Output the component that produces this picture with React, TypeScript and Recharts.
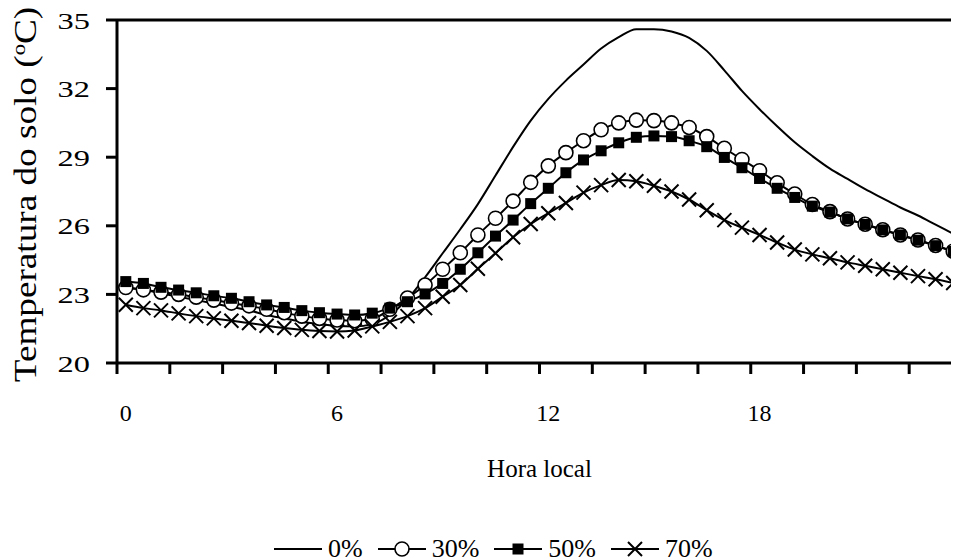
import React from "react";
import {
  LineChart,
  Line,
  XAxis,
  YAxis,
  ReferenceLine,
  Legend,
} from "recharts";

const FONT = '"Liberation Serif", "Times New Roman", serif';

// hora local (h), one reading every half hour
const hours = [
  0, 0.5, 1, 1.5, 2, 2.5, 3, 3.5, 4, 4.5, 5, 5.5, 6, 6.5, 7, 7.5, 8, 8.5, 9,
  9.5, 10, 10.5, 11, 11.5, 12, 12.5, 13, 13.5, 14, 14.5, 15, 15.5, 16, 16.5,
  17, 17.5, 18, 18.5, 19, 19.5, 20, 20.5, 21, 21.5, 22, 22.5, 23, 23.5,
];

const temp0 = [
  23.3, 23.2, 23.05, 22.9, 22.75, 22.6, 22.45, 22.3, 22.1, 21.95, 21.8, 21.7,
  21.62, 21.6, 21.7, 22.1, 22.8, 23.75, 24.8, 25.85, 26.95, 28.2, 29.45, 30.6,
  31.55, 32.35, 33.05, 33.75, 34.25, 34.6, 34.6, 34.5, 34.22, 33.65, 32.8,
  31.9, 31.1, 30.35, 29.65, 29.05, 28.5, 28.05, 27.6, 27.2, 26.8, 26.45,
  26.05, 25.65,
];
const temp30 = [
  23.3, 23.2, 23.1, 23.0, 22.88, 22.75, 22.62, 22.5, 22.35, 22.2, 22.05,
  21.95, 21.88, 21.85, 21.92, 22.35, 22.84, 23.41, 24.1, 24.82, 25.6, 26.33,
  27.08, 27.9, 28.62, 29.2, 29.72, 30.2, 30.5, 30.62, 30.6, 30.5, 30.3, 29.9,
  29.39, 28.9, 28.41, 27.88, 27.39, 26.93, 26.62, 26.3, 26.07, 25.83, 25.6,
  25.38, 25.14, 24.89,
];
const temp50 = [
  23.56, 23.48, 23.31, 23.19, 23.07, 22.94, 22.83, 22.68, 22.54, 22.43, 22.29,
  22.2, 22.14, 22.1, 22.18, 22.4, 22.68, 23.02, 23.48, 24.1, 24.82, 25.55,
  26.25, 26.97, 27.64, 28.32, 28.88, 29.28, 29.63, 29.87, 29.93, 29.9, 29.72,
  29.46, 28.99, 28.54, 28.07, 27.64, 27.24, 26.86, 26.6, 26.3, 26.06, 25.82,
  25.6, 25.37, 25.13, 24.88,
];
const temp70 = [
  22.55, 22.4, 22.3, 22.17, 22.05, 21.95, 21.85, 21.75, 21.63, 21.53, 21.45,
  21.4, 21.38, 21.42, 21.6, 21.8, 22.05, 22.4, 22.9, 23.41, 24.12, 24.8, 25.5,
  26.08, 26.55, 27.0, 27.45, 27.78, 28.0, 27.95, 27.75, 27.5, 27.15, 26.68,
  26.25, 25.92, 25.6, 25.27, 24.96, 24.75, 24.58, 24.4, 24.25, 24.1, 23.95,
  23.8, 23.66, 23.5,
];

const seriesNames = ["0%", "30%", "50%", "70%"];
const yTicks = [20, 23, 26, 29, 32, 35];
const xLabels = [0, 6, 12, 18];
// tick marks sit between categories, every 1.5 h
const xTickMarks = [
  -0.25, 1.25, 2.75, 4.25, 5.75, 7.25, 8.75, 10.25, 11.75, 13.25, 14.75,
  16.25, 17.75, 19.25, 20.75, 22.25, 23.75,
];

const data = hours.map((h, i) => ({
  hora: h,
  s0: temp0[i],
  s30: temp30[i],
  s50: temp50[i],
  s70: temp70[i],
}));

const CircleDot = (p: any) => (
  <circle
    key={p.index}
    cx={p.cx}
    cy={p.cy}
    r={7}
    fill="#fff"
    stroke="#000"
    strokeWidth={1.6}
  />
);

const SquareDot = (p: any) => (
  <rect
    key={p.index}
    x={p.cx - 5.5}
    y={p.cy - 5.5}
    width={11}
    height={11}
    fill="#000"
  />
);

const CrossDot = (p: any) => (
  <path
    key={p.index}
    d={`M${p.cx - 7},${p.cy - 7}L${p.cx + 7},${p.cy + 7}M${p.cx - 7},${p.cy + 7}L${p.cx + 7},${p.cy - 7}`}
    stroke="#000"
    strokeWidth={2}
  />
);

const XTick = (props: any) => {
  const { x, y, payload } = props;
  const v = payload.value;
  if (xLabels.includes(v)) {
    return (
      <text
        x={x}
        y={y + 58}
        textAnchor="middle"
        fill="#000"
        fontSize={24}
        fontFamily={FONT}
      >
        {v}
      </text>
    );
  }
  return <line x1={x} x2={x} y1={y} y2={y + 11} stroke="#000" strokeWidth={3} />;
};

const YTick = (props: any) => {
  const { x, y, payload } = props;
  return (
    <text
      transform={`translate(${x},${y}) scale(1.35,1)`}
      dy="0.36em"
      textAnchor="end"
      fill="#000"
      fontSize={24}
      fontFamily={FONT}
    >
      {payload.value}
    </text>
  );
};

const legendMarks = [
  null,
  <circle cx={24} cy={13} r={7} fill="#fff" stroke="#000" strokeWidth={1.6} />,
  <rect x={18.5} y={7.5} width={11} height={11} fill="#000" />,
  <path d="M17,6L31,20M17,20L31,6" stroke="#000" strokeWidth={2} />,
];

const renderLegend = () => (
  <div
    style={{
      display: "flex",
      alignItems: "center",
      fontFamily: FONT,
      fontSize: 26,
      lineHeight: "26px",
      color: "#000",
    }}
  >
    {seriesNames.map((name, i) => (
      <div key={name} style={{ display: "flex", alignItems: "center", marginRight: 15 }}>
        <svg width={48} height={26} style={{ marginRight: 6 }}>
          <line x1={0} x2={48} y1={13} y2={13} stroke="#000" strokeWidth={2} />
          {legendMarks[i]}
        </svg>
        <span>{name}</span>
      </div>
    ))}
  </div>
);

const App = () => {
  return (
    <div style={{ width: 951, height: 550, overflow: "hidden", position: "relative" }}>
      <LineChart
        width={960}
        height={550}
        data={data}
        margin={{ top: 12, right: 6, bottom: 0, left: 0 }}
      >
        <XAxis
          dataKey="hora"
          type="number"
          domain={[-0.25, 23.75]}
          ticks={[...xTickMarks, ...xLabels]}
          interval={0}
          tickSize={0}
          tickMargin={0}
          tickLine={false}
          tick={<XTick />}
          height={195}
          axisLine={{ stroke: "#000", strokeWidth: 3 }}
          label={({ viewBox }: any) => (
            <text
              x={viewBox.x + viewBox.width / 2}
              y={viewBox.y + 114}
              textAnchor="middle"
              fill="#000"
              fontSize={25}
              fontFamily={FONT}
            >
              Hora local
            </text>
          )}
        />
        <YAxis
          domain={[20, 35]}
          ticks={yTicks}
          interval={0}
          width={109}
          tickSize={11}
          tickMargin={16}
          axisLine={{ stroke: "#000", strokeWidth: 3 }}
          tickLine={{ stroke: "#000", strokeWidth: 3 }}
          tick={<YTick />}
          label={({ viewBox }: any) => {
            const cy = viewBox.y + viewBox.height / 2 + 3;
            return (
              <text
                transform={`translate(28,${cy}) rotate(-90) scale(1.2,1)`}
                textAnchor="middle"
                fill="#000"
                fontSize={31}
                fontFamily={FONT}
              >
                <tspan>Temperatura do solo (</tspan>
                <tspan dy={-11} fontSize={19}>o</tspan>
                <tspan dy={11}>C)</tspan>
              </text>
            );
          }}
        />
        <ReferenceLine y={35} stroke="#000" strokeWidth={3} />
        <Legend
          layout="horizontal"
          verticalAlign="middle"
          align="center"
          content={renderLegend}
          wrapperStyle={{ position: "absolute", top: 528, left: 266, width: "auto" }}
        />
        <Line
          name={seriesNames[0]}
          dataKey="s0"
          type="monotone"
          stroke="#000"
          strokeWidth={2}
          dot={false}
          activeDot={false}
          isAnimationActive={false}
        />
        <Line
          name={seriesNames[1]}
          dataKey="s30"
          type="monotone"
          stroke="#000"
          strokeWidth={2}
          dot={CircleDot}
          activeDot={false}
          isAnimationActive={false}
        />
        <Line
          name={seriesNames[2]}
          dataKey="s50"
          type="monotone"
          stroke="#000"
          strokeWidth={2}
          dot={SquareDot}
          activeDot={false}
          isAnimationActive={false}
        />
        <Line
          name={seriesNames[3]}
          dataKey="s70"
          type="monotone"
          stroke="#000"
          strokeWidth={2}
          dot={CrossDot}
          activeDot={false}
          isAnimationActive={false}
        />
      </LineChart>
    </div>
  );
};

export default App;
